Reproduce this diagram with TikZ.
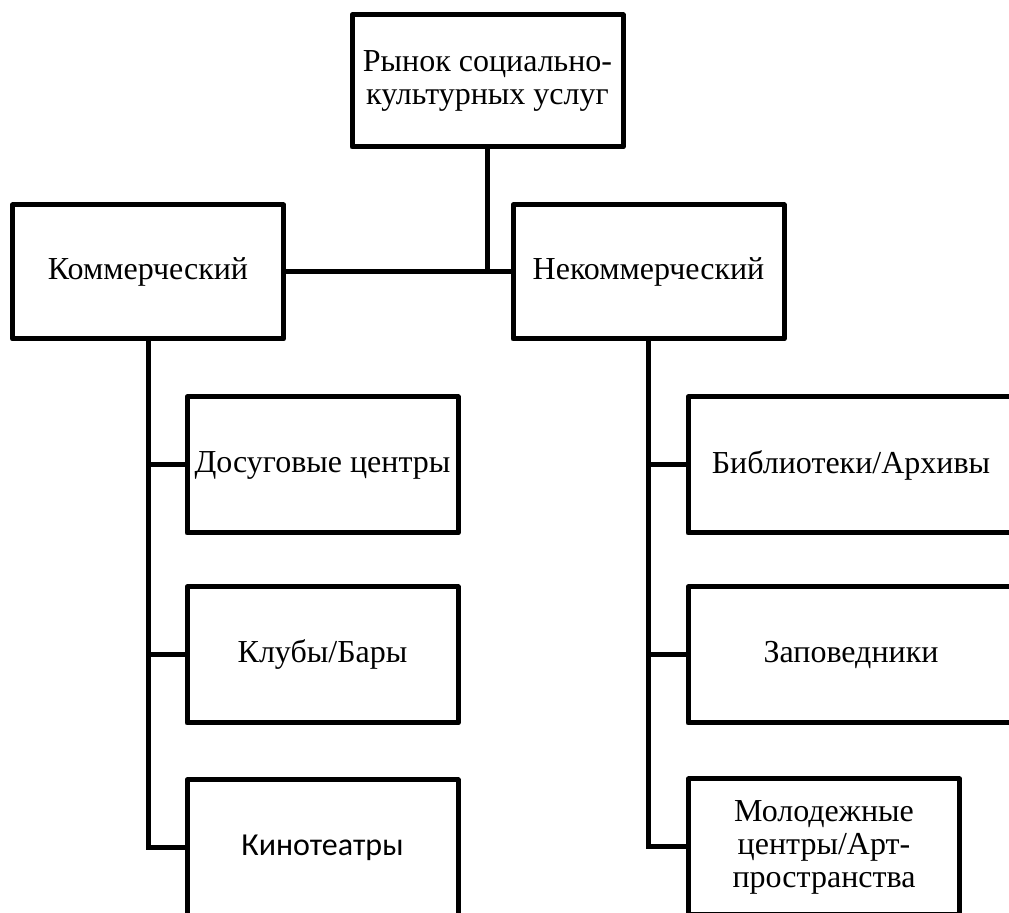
\documentclass[tikz,border=0pt]{standalone}
\usepackage{fontspec}
\setmainfont{Liberation Serif}
\newfontfamily\carlitofont{Carlito}
\newlength{\boxwidth}
\setlength{\boxwidth}{135.5pt}

\begin{document}
\begin{tikzpicture}[x=0.5pt, y=-0.5pt,
    unit/.style={draw, line width=2.5pt, line join=round, inner sep=0pt, outer sep=0pt,
        minimum width=\boxwidth, minimum height=68pt, align=center,
        font=\fontsize{16}{16.5}\selectfont},
    link/.style={line width=2.5pt}]
    \useasboundingbox (0,0) rectangle (1009,913);
    \clip (0,0) rectangle (1009,913);
    \fill[white] (0,0) rectangle (1009,913);

    \node[unit, minimum height=66pt] (market) at (487.5,81) {Рынок социально-\\культурных услуг};
    \node[unit, minimum height=67pt] (commercial) at (148,272) {Коммерческий};
    \node[unit, minimum height=67pt] (noncommercial) at (648.5,272) {Некоммерческий};

    \node[unit] (leisure) at (322.5,465) {Досуговые центры};
    \node[unit] (clubs) at (322.5,655) {Клубы/Бары};
    \node[unit, font=\carlitofont\fontsize{16}{16.5}\selectfont] (cinemas) at (322.5,848) {Кинотеатры};

    \node[unit, minimum width=163pt] (libraries) at (851,465) {Библиотеки/Архивы};
    \node[unit, minimum width=163pt] (reserves) at (851,655) {Заповедники};
    \node[unit] (youth) at (824,847) {Молодежные\\центры/Арт-\\пространства};

    \draw[link] (market.south) -- (market.south |- commercial.east);
    \draw[link] (commercial.east) -- (noncommercial.west);

    \draw[link] (commercial.south) -- (commercial.south |- cinemas.west) -- (cinemas.west);
    \draw[link] (commercial.south |- leisure.west) -- (leisure.west);
    \draw[link] (commercial.south |- clubs.west) -- (clubs.west);

    \draw[link] (noncommercial.south) -- (noncommercial.south |- youth.west) -- (youth.west);
    \draw[link] (noncommercial.south |- libraries.west) -- (libraries.west);
    \draw[link] (noncommercial.south |- reserves.west) -- (reserves.west);
\end{tikzpicture}
\end{document}
